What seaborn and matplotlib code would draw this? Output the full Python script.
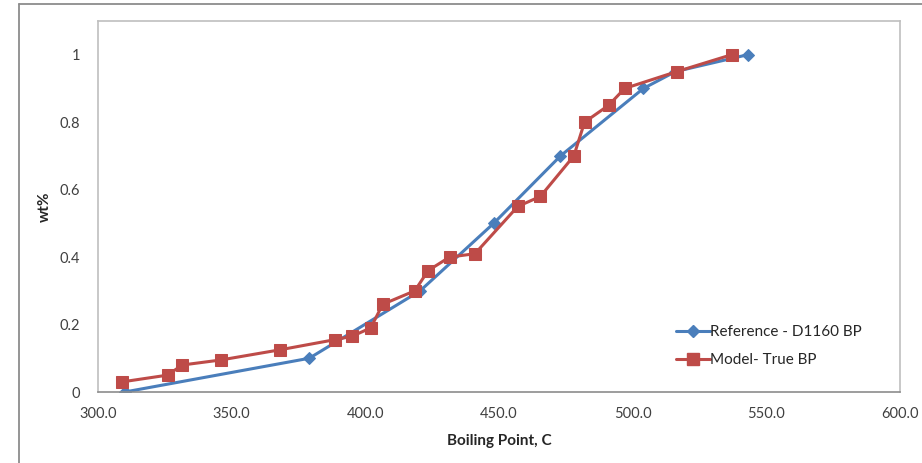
import numpy as np
import pandas as pd
import matplotlib
matplotlib.use("Agg")
import matplotlib.pyplot as plt
import seaborn as sns
from matplotlib.lines import Line2D

# reference D1160 boiling points
ref_bp = [310.0, 379.0, 420.5, 448.0, 473.0, 504.0, 516.0, 543.0]
ref_wt = [0.0, 0.1, 0.3, 0.5, 0.7, 0.9, 0.95, 1.0]

# model true boiling points
model_bp = [309.0, 326.0, 331.5, 346.0, 368.0, 388.5, 395.0, 402.0, 406.5,
            418.5, 423.5, 431.5, 441.0, 457.0, 465.5, 478.0, 482.0, 491.0,
            497.0, 516.5, 537.0]
model_wt = [0.03, 0.05, 0.08, 0.095, 0.125, 0.155, 0.165, 0.19, 0.26,
            0.30, 0.36, 0.40, 0.41, 0.55, 0.58, 0.70, 0.80, 0.85,
            0.90, 0.95, 1.0]

x_ticks = [300, 350, 400, 450, 500, 550, 600]
y_ticks = [0, 0.2, 0.4, 0.6, 0.8, 1.0]
y_labels = ["0", "0.2", "0.4", "0.6", "0.8", "1"]

blue = "#4A7EBB"
red = "#BE4B48"

sns.set_style("white")
plt.rcParams['font.family'] = ['Lato', 'DejaVu Sans']

df_ref = pd.DataFrame({"bp": ref_bp, "wt": ref_wt})
df_mod = pd.DataFrame({"bp": model_bp, "wt": model_wt})

fig = plt.figure(figsize=(9.22, 4.63), dpi=100)
ax = fig.add_axes([98 / 922, 1 - 392 / 463, (900 - 98) / 922, (392 - 21) / 463])

sns.lineplot(data=df_ref, x="bp", y="wt", ax=ax, color=blue, linewidth=2.2,
             marker="D", markersize=6, markeredgecolor=blue, sort=False)
sns.lineplot(data=df_mod, x="bp", y="wt", ax=ax, color=red, linewidth=2.2,
             marker="s", markersize=9, markeredgecolor=red, sort=False)

ax.set_xlim(300, 600)
ax.set_ylim(0, 1.1)
ax.set_xticks(x_ticks)
ax.set_xticklabels([f"{v:.1f}" for v in x_ticks])
ax.set_yticks(y_ticks)
ax.set_yticklabels(y_labels)
ax.tick_params(axis="both", direction="out", length=5, color="#9a9a9a",
               labelsize=10.5, labelcolor="#404040", width=1)
ax.tick_params(axis="x", pad=6)
ax.tick_params(axis="y", pad=8)

for s in ax.spines.values():
    s.set_color("#bfbfbf")
    s.set_linewidth(1.2)
ax.spines["bottom"].set_color("#8c8c8c")

ax.set_xlabel("Boiling Point, C", fontsize=11, fontweight="bold", color="#262626", labelpad=9)
ax.set_ylabel("wt%", fontsize=11, fontweight="bold", color="#262626")
ax.yaxis.set_label_coords(-0.058, 0.5)

handles = [Line2D([], [], color=blue, lw=2.2, marker="D", markersize=6),
           Line2D([], [], color=red, lw=2.2, marker="s", markersize=9)]
ax.legend(handles, ["Reference - D1160 BP", "Model- True BP"], loc="lower right",
          bbox_to_anchor=(0.97, 0.03), frameon=False, fontsize=11,
          handlelength=2.2, handletextpad=0.05, labelspacing=0.9,
          labelcolor="#262626")

# outer chart border (left and top edges visible)
fig.add_artist(Line2D([19 / 922, 19 / 922], [0, 1 - 4 / 463], transform=fig.transFigure,
                      color="#8c8c8c", lw=1.3))
fig.add_artist(Line2D([19 / 922, 1], [1 - 4 / 463, 1 - 4 / 463], transform=fig.transFigure,
                      color="#8c8c8c", lw=1.3))

fig.savefig("out.png", dpi=100)
